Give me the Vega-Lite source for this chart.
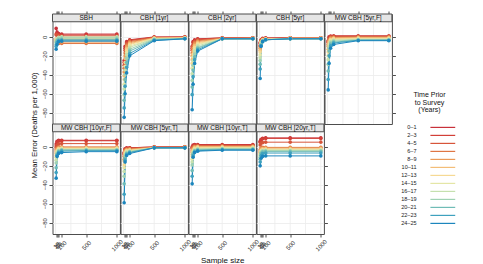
{
  "$schema": "https://vega.github.io/schema/vega-lite/v6.json",
  "background": "white",
  "padding": {"left": 29.5, "top": 10, "right": 5, "bottom": 5},
  "datasets": {
    "sbh": [
      {"t":"0–1","n":10,"v":9},{"t":"0–1","n":25,"v":5},{"t":"0–1","n":50,"v":3.5},{"t":"0–1","n":100,"v":3},{"t":"0–1","n":500,"v":3},{"t":"0–1","n":1000,"v":3},
      {"t":"2–3","n":10,"v":3},{"t":"2–3","n":25,"v":3},{"t":"2–3","n":50,"v":2.5},{"t":"2–3","n":100,"v":2},{"t":"2–3","n":500,"v":2},{"t":"2–3","n":1000,"v":2},
      {"t":"4–5","n":10,"v":2},{"t":"4–5","n":25,"v":2},{"t":"4–5","n":50,"v":1.5},{"t":"4–5","n":100,"v":1},{"t":"4–5","n":500,"v":1},{"t":"4–5","n":1000,"v":1},
      {"t":"6–7","n":10,"v":-4},{"t":"6–7","n":25,"v":-6},{"t":"6–7","n":50,"v":-7},{"t":"6–7","n":100,"v":-7},{"t":"6–7","n":500,"v":-7},{"t":"6–7","n":1000,"v":-7},
      {"t":"8–9","n":10,"v":-3},{"t":"8–9","n":25,"v":-4.5},{"t":"8–9","n":50,"v":-5.5},{"t":"8–9","n":100,"v":-5.5},{"t":"8–9","n":500,"v":-5.5},{"t":"8–9","n":1000,"v":-5.5},
      {"t":"10–11","n":10,"v":-2},{"t":"10–11","n":25,"v":-3},{"t":"10–11","n":50,"v":-3},{"t":"10–11","n":100,"v":-3},{"t":"10–11","n":500,"v":-3},{"t":"10–11","n":1000,"v":-3},
      {"t":"12–13","n":10,"v":-3},{"t":"12–13","n":25,"v":-2},{"t":"12–13","n":50,"v":-1.5},{"t":"12–13","n":100,"v":-1.5},{"t":"12–13","n":500,"v":-1.5},{"t":"12–13","n":1000,"v":-1.5},
      {"t":"14–15","n":10,"v":-4},{"t":"14–15","n":25,"v":-2},{"t":"14–15","n":50,"v":-1},{"t":"14–15","n":100,"v":-0.5},{"t":"14–15","n":500,"v":-0.5},{"t":"14–15","n":1000,"v":-0.5},
      {"t":"16–17","n":10,"v":-5},{"t":"16–17","n":25,"v":-2},{"t":"16–17","n":50,"v":-0.5},{"t":"16–17","n":100,"v":0},{"t":"16–17","n":500,"v":0},{"t":"16–17","n":1000,"v":0},
      {"t":"18–19","n":10,"v":-6},{"t":"18–19","n":25,"v":-3},{"t":"18–19","n":50,"v":-1.5},{"t":"18–19","n":100,"v":-1},{"t":"18–19","n":500,"v":-1},{"t":"18–19","n":1000,"v":-1},
      {"t":"20–21","n":10,"v":-8},{"t":"20–21","n":25,"v":-4},{"t":"20–21","n":50,"v":-3},{"t":"20–21","n":100,"v":-2.5},{"t":"20–21","n":500,"v":-2.5},{"t":"20–21","n":1000,"v":-2.5},
      {"t":"22–23","n":10,"v":-10},{"t":"22–23","n":25,"v":-6},{"t":"22–23","n":50,"v":-4},{"t":"22–23","n":100,"v":-3.5},{"t":"22–23","n":500,"v":-3.5},{"t":"22–23","n":1000,"v":-3.5},
      {"t":"24–25","n":10,"v":-13},{"t":"24–25","n":25,"v":-8},{"t":"24–25","n":50,"v":-5},{"t":"24–25","n":100,"v":-4.5},{"t":"24–25","n":500,"v":-4.5},{"t":"24–25","n":1000,"v":-4.5}
    ],
    "c1": [
      {"t":"0–1","n":10,"v":-25},{"t":"0–1","n":25,"v":-10},{"t":"0–1","n":50,"v":-5},{"t":"0–1","n":100,"v":-3},{"t":"0–1","n":500,"v":0},{"t":"0–1","n":1000,"v":0},
      {"t":"2–3","n":10,"v":-27},{"t":"2–3","n":25,"v":-12},{"t":"2–3","n":50,"v":-6},{"t":"2–3","n":100,"v":-3.5},{"t":"2–3","n":500,"v":-0.5},{"t":"2–3","n":1000,"v":0},
      {"t":"4–5","n":10,"v":-30},{"t":"4–5","n":25,"v":-14},{"t":"4–5","n":50,"v":-7},{"t":"4–5","n":100,"v":-4},{"t":"4–5","n":500,"v":-0.5},{"t":"4–5","n":1000,"v":-0.5},
      {"t":"6–7","n":10,"v":-33},{"t":"6–7","n":25,"v":-17},{"t":"6–7","n":50,"v":-8.5},{"t":"6–7","n":100,"v":-5},{"t":"6–7","n":500,"v":-1},{"t":"6–7","n":1000,"v":-0.5},
      {"t":"8–9","n":10,"v":-37},{"t":"8–9","n":25,"v":-20},{"t":"8–9","n":50,"v":-10},{"t":"8–9","n":100,"v":-6},{"t":"8–9","n":500,"v":-1},{"t":"8–9","n":1000,"v":-1},
      {"t":"10–11","n":10,"v":-41},{"t":"10–11","n":25,"v":-23},{"t":"10–11","n":50,"v":-12},{"t":"10–11","n":100,"v":-7},{"t":"10–11","n":500,"v":-1.5},{"t":"10–11","n":1000,"v":-1},
      {"t":"12–13","n":10,"v":-45},{"t":"12–13","n":25,"v":-27},{"t":"12–13","n":50,"v":-14},{"t":"12–13","n":100,"v":-8},{"t":"12–13","n":500,"v":-1.5},{"t":"12–13","n":1000,"v":-1},
      {"t":"14–15","n":10,"v":-50},{"t":"14–15","n":25,"v":-31},{"t":"14–15","n":50,"v":-16.5},{"t":"14–15","n":100,"v":-9.5},{"t":"14–15","n":500,"v":-2},{"t":"14–15","n":1000,"v":-1.5},
      {"t":"16–17","n":10,"v":-55},{"t":"16–17","n":25,"v":-35},{"t":"16–17","n":50,"v":-19},{"t":"16–17","n":100,"v":-11},{"t":"16–17","n":500,"v":-2},{"t":"16–17","n":1000,"v":-1.5},
      {"t":"18–19","n":10,"v":-61},{"t":"18–19","n":25,"v":-40},{"t":"18–19","n":50,"v":-22.5},{"t":"18–19","n":100,"v":-13},{"t":"18–19","n":500,"v":-2.5},{"t":"18–19","n":1000,"v":-1.5},
      {"t":"20–21","n":10,"v":-67},{"t":"20–21","n":25,"v":-45},{"t":"20–21","n":50,"v":-27},{"t":"20–21","n":100,"v":-15},{"t":"20–21","n":500,"v":-3},{"t":"20–21","n":1000,"v":-2},
      {"t":"22–23","n":10,"v":-75},{"t":"22–23","n":25,"v":-52},{"t":"22–23","n":50,"v":-32},{"t":"22–23","n":100,"v":-17.5},{"t":"22–23","n":500,"v":-3.5},{"t":"22–23","n":1000,"v":-2},
      {"t":"24–25","n":10,"v":-85},{"t":"24–25","n":25,"v":-60},{"t":"24–25","n":50,"v":-38},{"t":"24–25","n":100,"v":-20},{"t":"24–25","n":500,"v":-4},{"t":"24–25","n":1000,"v":-2}
    ],
    "c2": [
      {"t":"0–1","n":10,"v":-10},{"t":"0–1","n":25,"v":-5},{"t":"0–1","n":50,"v":-3},{"t":"0–1","n":100,"v":-2},{"t":"0–1","n":500,"v":-1},{"t":"0–1","n":1000,"v":-1},
      {"t":"2–3","n":10,"v":-12},{"t":"2–3","n":25,"v":-6},{"t":"2–3","n":50,"v":-4},{"t":"2–3","n":100,"v":-2.5},{"t":"2–3","n":500,"v":-1},{"t":"2–3","n":1000,"v":-1},
      {"t":"4–5","n":10,"v":-14},{"t":"4–5","n":25,"v":-8},{"t":"4–5","n":50,"v":-5},{"t":"4–5","n":100,"v":-3},{"t":"4–5","n":500,"v":-1.5},{"t":"4–5","n":1000,"v":-1},
      {"t":"6–7","n":10,"v":-17},{"t":"6–7","n":25,"v":-10},{"t":"6–7","n":50,"v":-6},{"t":"6–7","n":100,"v":-4},{"t":"6–7","n":500,"v":-1.5},{"t":"6–7","n":1000,"v":-1.5},
      {"t":"8–9","n":10,"v":-20},{"t":"8–9","n":25,"v":-12},{"t":"8–9","n":50,"v":-7.5},{"t":"8–9","n":100,"v":-5},{"t":"8–9","n":500,"v":-1.5},{"t":"8–9","n":1000,"v":-1.5},
      {"t":"10–11","n":10,"v":-24},{"t":"10–11","n":25,"v":-15},{"t":"10–11","n":50,"v":-9},{"t":"10–11","n":100,"v":-6},{"t":"10–11","n":500,"v":-2},{"t":"10–11","n":1000,"v":-1.5},
      {"t":"12–13","n":10,"v":-28},{"t":"12–13","n":25,"v":-18},{"t":"12–13","n":50,"v":-11},{"t":"12–13","n":100,"v":-7},{"t":"12–13","n":500,"v":-2},{"t":"12–13","n":1000,"v":-2},
      {"t":"14–15","n":10,"v":-33},{"t":"14–15","n":25,"v":-21},{"t":"14–15","n":50,"v":-13},{"t":"14–15","n":100,"v":-8},{"t":"14–15","n":500,"v":-2},{"t":"14–15","n":1000,"v":-2},
      {"t":"16–17","n":10,"v":-39},{"t":"16–17","n":25,"v":-25},{"t":"16–17","n":50,"v":-15},{"t":"16–17","n":100,"v":-9.5},{"t":"16–17","n":500,"v":-2},{"t":"16–17","n":1000,"v":-2},
      {"t":"18–19","n":10,"v":-46},{"t":"18–19","n":25,"v":-30},{"t":"18–19","n":50,"v":-18},{"t":"18–19","n":100,"v":-11},{"t":"18–19","n":500,"v":-2},{"t":"18–19","n":1000,"v":-2},
      {"t":"20–21","n":10,"v":-53},{"t":"20–21","n":25,"v":-35},{"t":"20–21","n":50,"v":-21},{"t":"20–21","n":100,"v":-12},{"t":"20–21","n":500,"v":-2},{"t":"20–21","n":1000,"v":-2},
      {"t":"22–23","n":10,"v":-61},{"t":"22–23","n":25,"v":-42},{"t":"22–23","n":50,"v":-24},{"t":"22–23","n":100,"v":-13.5},{"t":"22–23","n":500,"v":-2},{"t":"22–23","n":1000,"v":-2},
      {"t":"24–25","n":10,"v":-77},{"t":"24–25","n":25,"v":-50},{"t":"24–25","n":50,"v":-28},{"t":"24–25","n":100,"v":-15},{"t":"24–25","n":500,"v":-2},{"t":"24–25","n":1000,"v":-2}
    ],
    "c5": [
      {"t":"0–1","n":10,"v":-6},{"t":"0–1","n":25,"v":-3},{"t":"0–1","n":50,"v":-1.5},{"t":"0–1","n":100,"v":-1},{"t":"0–1","n":500,"v":-1},{"t":"0–1","n":1000,"v":-1},
      {"t":"2–3","n":10,"v":-7},{"t":"2–3","n":25,"v":-3.5},{"t":"2–3","n":50,"v":-2},{"t":"2–3","n":100,"v":-1.5},{"t":"2–3","n":500,"v":-1},{"t":"2–3","n":1000,"v":-1},
      {"t":"4–5","n":10,"v":-9},{"t":"4–5","n":25,"v":-4},{"t":"4–5","n":50,"v":-2},{"t":"4–5","n":100,"v":-1.5},{"t":"4–5","n":500,"v":-1},{"t":"4–5","n":1000,"v":-1},
      {"t":"6–7","n":10,"v":-10},{"t":"6–7","n":25,"v":-4.5},{"t":"6–7","n":50,"v":-2.5},{"t":"6–7","n":100,"v":-2},{"t":"6–7","n":500,"v":-1.5},{"t":"6–7","n":1000,"v":-1.5},
      {"t":"8–9","n":10,"v":-12},{"t":"8–9","n":25,"v":-5},{"t":"8–9","n":50,"v":-3},{"t":"8–9","n":100,"v":-2},{"t":"8–9","n":500,"v":-1.5},{"t":"8–9","n":1000,"v":-1.5},
      {"t":"10–11","n":10,"v":-14},{"t":"10–11","n":25,"v":-5.5},{"t":"10–11","n":50,"v":-3},{"t":"10–11","n":100,"v":-2},{"t":"10–11","n":500,"v":-1.5},{"t":"10–11","n":1000,"v":-1.5},
      {"t":"12–13","n":10,"v":-16},{"t":"12–13","n":25,"v":-6},{"t":"12–13","n":50,"v":-3.5},{"t":"12–13","n":100,"v":-2.5},{"t":"12–13","n":500,"v":-1.5},{"t":"12–13","n":1000,"v":-1.5},
      {"t":"14–15","n":10,"v":-19},{"t":"14–15","n":25,"v":-6.5},{"t":"14–15","n":50,"v":-3.5},{"t":"14–15","n":100,"v":-2.5},{"t":"14–15","n":500,"v":-2},{"t":"14–15","n":1000,"v":-2},
      {"t":"16–17","n":10,"v":-22},{"t":"16–17","n":25,"v":-7},{"t":"16–17","n":50,"v":-4},{"t":"16–17","n":100,"v":-2.5},{"t":"16–17","n":500,"v":-2},{"t":"16–17","n":1000,"v":-2},
      {"t":"18–19","n":10,"v":-25},{"t":"18–19","n":25,"v":-7.5},{"t":"18–19","n":50,"v":-4},{"t":"18–19","n":100,"v":-3},{"t":"18–19","n":500,"v":-2},{"t":"18–19","n":1000,"v":-2},
      {"t":"20–21","n":10,"v":-29},{"t":"20–21","n":25,"v":-8.5},{"t":"20–21","n":50,"v":-4.5},{"t":"20–21","n":100,"v":-3},{"t":"20–21","n":500,"v":-2},{"t":"20–21","n":1000,"v":-2},
      {"t":"22–23","n":10,"v":-34},{"t":"22–23","n":25,"v":-9},{"t":"22–23","n":50,"v":-5},{"t":"22–23","n":100,"v":-3},{"t":"22–23","n":500,"v":-2},{"t":"22–23","n":1000,"v":-2},
      {"t":"24–25","n":10,"v":-44},{"t":"24–25","n":25,"v":-10},{"t":"24–25","n":50,"v":-5},{"t":"24–25","n":100,"v":-3},{"t":"24–25","n":500,"v":-2},{"t":"24–25","n":1000,"v":-2}
    ],
    "m5f": [
      {"t":"0–1","n":10,"v":-4},{"t":"0–1","n":25,"v":0},{"t":"0–1","n":50,"v":1},{"t":"0–1","n":100,"v":1},{"t":"0–1","n":500,"v":1},{"t":"0–1","n":1000,"v":1},
      {"t":"2–3","n":10,"v":-5},{"t":"2–3","n":25,"v":-1},{"t":"2–3","n":50,"v":0.5},{"t":"2–3","n":100,"v":1},{"t":"2–3","n":500,"v":1},{"t":"2–3","n":1000,"v":1},
      {"t":"4–5","n":10,"v":-6},{"t":"4–5","n":25,"v":-2},{"t":"4–5","n":50,"v":0},{"t":"4–5","n":100,"v":0.5},{"t":"4–5","n":500,"v":0.5},{"t":"4–5","n":1000,"v":0.5},
      {"t":"6–7","n":10,"v":-8},{"t":"6–7","n":25,"v":-3},{"t":"6–7","n":50,"v":-1},{"t":"6–7","n":100,"v":-0.5},{"t":"6–7","n":500,"v":0},{"t":"6–7","n":1000,"v":0},
      {"t":"8–9","n":10,"v":-10},{"t":"8–9","n":25,"v":-4},{"t":"8–9","n":50,"v":-1.5},{"t":"8–9","n":100,"v":-1},{"t":"8–9","n":500,"v":-0.5},{"t":"8–9","n":1000,"v":-0.5},
      {"t":"10–11","n":10,"v":-13},{"t":"10–11","n":25,"v":-5},{"t":"10–11","n":50,"v":-2.5},{"t":"10–11","n":100,"v":-1.5},{"t":"10–11","n":500,"v":-1},{"t":"10–11","n":1000,"v":-1},
      {"t":"12–13","n":10,"v":-16},{"t":"12–13","n":25,"v":-6.5},{"t":"12–13","n":50,"v":-3},{"t":"12–13","n":100,"v":-2},{"t":"12–13","n":500,"v":-1.5},{"t":"12–13","n":1000,"v":-1.5},
      {"t":"14–15","n":10,"v":-20},{"t":"14–15","n":25,"v":-8},{"t":"14–15","n":50,"v":-4},{"t":"14–15","n":100,"v":-3},{"t":"14–15","n":500,"v":-2},{"t":"14–15","n":1000,"v":-2},
      {"t":"16–17","n":10,"v":-24},{"t":"16–17","n":25,"v":-10},{"t":"16–17","n":50,"v":-5},{"t":"16–17","n":100,"v":-3.5},{"t":"16–17","n":500,"v":-2.5},{"t":"16–17","n":1000,"v":-2.5},
      {"t":"18–19","n":10,"v":-29},{"t":"18–19","n":25,"v":-12},{"t":"18–19","n":50,"v":-6},{"t":"18–19","n":100,"v":-4.5},{"t":"18–19","n":500,"v":-3},{"t":"18–19","n":1000,"v":-3},
      {"t":"20–21","n":10,"v":-36},{"t":"20–21","n":25,"v":-15},{"t":"20–21","n":50,"v":-7.5},{"t":"20–21","n":100,"v":-5.5},{"t":"20–21","n":500,"v":-3.5},{"t":"20–21","n":1000,"v":-3.5},
      {"t":"22–23","n":10,"v":-45},{"t":"22–23","n":25,"v":-20},{"t":"22–23","n":50,"v":-9.5},{"t":"22–23","n":100,"v":-6.5},{"t":"22–23","n":500,"v":-3.5},{"t":"22–23","n":1000,"v":-3.5},
      {"t":"24–25","n":10,"v":-56},{"t":"24–25","n":25,"v":-28},{"t":"24–25","n":50,"v":-12},{"t":"24–25","n":100,"v":-8},{"t":"24–25","n":500,"v":-4},{"t":"24–25","n":1000,"v":-4}
    ],
    "m10f": [
      {"t":"0–1","n":10,"v":3},{"t":"0–1","n":25,"v":6},{"t":"0–1","n":50,"v":7},{"t":"0–1","n":100,"v":7},{"t":"0–1","n":500,"v":7},{"t":"0–1","n":1000,"v":7},
      {"t":"2–3","n":10,"v":1},{"t":"2–3","n":25,"v":5},{"t":"2–3","n":50,"v":6},{"t":"2–3","n":100,"v":6.5},{"t":"2–3","n":500,"v":6.5},{"t":"2–3","n":1000,"v":6.5},
      {"t":"4–5","n":10,"v":-1},{"t":"4–5","n":25,"v":2},{"t":"4–5","n":50,"v":3},{"t":"4–5","n":100,"v":3.5},{"t":"4–5","n":500,"v":3.5},{"t":"4–5","n":1000,"v":3.5},
      {"t":"6–7","n":10,"v":-3},{"t":"6–7","n":25,"v":-1},{"t":"6–7","n":50,"v":0},{"t":"6–7","n":100,"v":0},{"t":"6–7","n":500,"v":0},{"t":"6–7","n":1000,"v":0},
      {"t":"8–9","n":10,"v":-5},{"t":"8–9","n":25,"v":-2},{"t":"8–9","n":50,"v":-1},{"t":"8–9","n":100,"v":-0.5},{"t":"8–9","n":500,"v":-0.5},{"t":"8–9","n":1000,"v":-0.5},
      {"t":"10–11","n":10,"v":-7},{"t":"10–11","n":25,"v":-3},{"t":"10–11","n":50,"v":-1.5},{"t":"10–11","n":100,"v":-1},{"t":"10–11","n":500,"v":-1},{"t":"10–11","n":1000,"v":-1},
      {"t":"12–13","n":10,"v":-9},{"t":"12–13","n":25,"v":-4},{"t":"12–13","n":50,"v":-2},{"t":"12–13","n":100,"v":-1.5},{"t":"12–13","n":500,"v":-1.5},{"t":"12–13","n":1000,"v":-1.5},
      {"t":"14–15","n":10,"v":-11},{"t":"14–15","n":25,"v":-5},{"t":"14–15","n":50,"v":-3},{"t":"14–15","n":100,"v":-2},{"t":"14–15","n":500,"v":-2},{"t":"14–15","n":1000,"v":-2},
      {"t":"16–17","n":10,"v":-14},{"t":"16–17","n":25,"v":-6},{"t":"16–17","n":50,"v":-3.5},{"t":"16–17","n":100,"v":-2.5},{"t":"16–17","n":500,"v":-2.5},{"t":"16–17","n":1000,"v":-2.5},
      {"t":"18–19","n":10,"v":-17},{"t":"18–19","n":25,"v":-7},{"t":"18–19","n":50,"v":-4},{"t":"18–19","n":100,"v":-3},{"t":"18–19","n":500,"v":-3},{"t":"18–19","n":1000,"v":-3},
      {"t":"20–21","n":10,"v":-22},{"t":"20–21","n":25,"v":-8},{"t":"20–21","n":50,"v":-5},{"t":"20–21","n":100,"v":-3.5},{"t":"20–21","n":500,"v":-3.5},{"t":"20–21","n":1000,"v":-3.5},
      {"t":"22–23","n":10,"v":-27},{"t":"22–23","n":25,"v":-9},{"t":"22–23","n":50,"v":-6},{"t":"22–23","n":100,"v":-4.5},{"t":"22–23","n":500,"v":-4},{"t":"22–23","n":1000,"v":-4},
      {"t":"24–25","n":10,"v":-33},{"t":"24–25","n":25,"v":-10},{"t":"24–25","n":50,"v":-7},{"t":"24–25","n":100,"v":-6},{"t":"24–25","n":500,"v":-5},{"t":"24–25","n":1000,"v":-5}
    ],
    "m5t": [
      {"t":"0–1","n":10,"v":-6},{"t":"0–1","n":25,"v":-2},{"t":"0–1","n":50,"v":-1},{"t":"0–1","n":100,"v":-1},{"t":"0–1","n":500,"v":0},{"t":"0–1","n":1000,"v":0},
      {"t":"2–3","n":10,"v":-7},{"t":"2–3","n":25,"v":-2.5},{"t":"2–3","n":50,"v":-1.5},{"t":"2–3","n":100,"v":-1},{"t":"2–3","n":500,"v":0},{"t":"2–3","n":1000,"v":0},
      {"t":"4–5","n":10,"v":-8},{"t":"4–5","n":25,"v":-3},{"t":"4–5","n":50,"v":-2},{"t":"4–5","n":100,"v":-1.5},{"t":"4–5","n":500,"v":-0.5},{"t":"4–5","n":1000,"v":0},
      {"t":"6–7","n":10,"v":-10},{"t":"6–7","n":25,"v":-3.5},{"t":"6–7","n":50,"v":-2.5},{"t":"6–7","n":100,"v":-2},{"t":"6–7","n":500,"v":-0.5},{"t":"6–7","n":1000,"v":-0.5},
      {"t":"8–9","n":10,"v":-13},{"t":"8–9","n":25,"v":-4.5},{"t":"8–9","n":50,"v":-3},{"t":"8–9","n":100,"v":-2.5},{"t":"8–9","n":500,"v":-0.5},{"t":"8–9","n":1000,"v":-0.5},
      {"t":"10–11","n":10,"v":-15},{"t":"10–11","n":25,"v":-5.5},{"t":"10–11","n":50,"v":-3.5},{"t":"10–11","n":100,"v":-3},{"t":"10–11","n":500,"v":-1},{"t":"10–11","n":1000,"v":-0.5},
      {"t":"12–13","n":10,"v":-19},{"t":"12–13","n":25,"v":-6.5},{"t":"12–13","n":50,"v":-4},{"t":"12–13","n":100,"v":-3.5},{"t":"12–13","n":500,"v":-1},{"t":"12–13","n":1000,"v":-1},
      {"t":"14–15","n":10,"v":-22},{"t":"14–15","n":25,"v":-7.5},{"t":"14–15","n":50,"v":-5},{"t":"14–15","n":100,"v":-4},{"t":"14–15","n":500,"v":-1},{"t":"14–15","n":1000,"v":-1},
      {"t":"16–17","n":10,"v":-26},{"t":"16–17","n":25,"v":-9},{"t":"16–17","n":50,"v":-5.5},{"t":"16–17","n":100,"v":-4.5},{"t":"16–17","n":500,"v":-1},{"t":"16–17","n":1000,"v":-1},
      {"t":"18–19","n":10,"v":-31},{"t":"18–19","n":25,"v":-10.5},{"t":"18–19","n":50,"v":-6.5},{"t":"18–19","n":100,"v":-5},{"t":"18–19","n":500,"v":-1},{"t":"18–19","n":1000,"v":-1},
      {"t":"20–21","n":10,"v":-39},{"t":"20–21","n":25,"v":-12},{"t":"20–21","n":50,"v":-7},{"t":"20–21","n":100,"v":-5.5},{"t":"20–21","n":500,"v":-1},{"t":"20–21","n":1000,"v":-1},
      {"t":"22–23","n":10,"v":-50},{"t":"22–23","n":25,"v":-14},{"t":"22–23","n":50,"v":-8},{"t":"22–23","n":100,"v":-6},{"t":"22–23","n":500,"v":-1},{"t":"22–23","n":1000,"v":-1},
      {"t":"24–25","n":10,"v":-59},{"t":"24–25","n":25,"v":-16},{"t":"24–25","n":50,"v":-9},{"t":"24–25","n":100,"v":-7},{"t":"24–25","n":500,"v":-1},{"t":"24–25","n":1000,"v":-1}
    ],
    "m10t": [
      {"t":"0–1","n":10,"v":0},{"t":"0–1","n":25,"v":2},{"t":"0–1","n":50,"v":2.5},{"t":"0–1","n":100,"v":2.5},{"t":"0–1","n":500,"v":2.5},{"t":"0–1","n":1000,"v":2.5},
      {"t":"2–3","n":10,"v":-1},{"t":"2–3","n":25,"v":1},{"t":"2–3","n":50,"v":2},{"t":"2–3","n":100,"v":2},{"t":"2–3","n":500,"v":2},{"t":"2–3","n":1000,"v":2},
      {"t":"4–5","n":10,"v":-2},{"t":"4–5","n":25,"v":0},{"t":"4–5","n":50,"v":1},{"t":"4–5","n":100,"v":1.5},{"t":"4–5","n":500,"v":1.5},{"t":"4–5","n":1000,"v":1.5},
      {"t":"6–7","n":10,"v":-4},{"t":"6–7","n":25,"v":-1},{"t":"6–7","n":50,"v":0.5},{"t":"6–7","n":100,"v":1},{"t":"6–7","n":500,"v":1},{"t":"6–7","n":1000,"v":1},
      {"t":"8–9","n":10,"v":-6},{"t":"8–9","n":25,"v":-2},{"t":"8–9","n":50,"v":0},{"t":"8–9","n":100,"v":0.5},{"t":"8–9","n":500,"v":0.5},{"t":"8–9","n":1000,"v":0.5},
      {"t":"10–11","n":10,"v":-8},{"t":"10–11","n":25,"v":-3},{"t":"10–11","n":50,"v":-1},{"t":"10–11","n":100,"v":0},{"t":"10–11","n":500,"v":0},{"t":"10–11","n":1000,"v":0},
      {"t":"12–13","n":10,"v":-10},{"t":"12–13","n":25,"v":-4},{"t":"12–13","n":50,"v":-1.5},{"t":"12–13","n":100,"v":-0.5},{"t":"12–13","n":500,"v":-0.5},{"t":"12–13","n":1000,"v":-0.5},
      {"t":"14–15","n":10,"v":-13},{"t":"14–15","n":25,"v":-5},{"t":"14–15","n":50,"v":-2.5},{"t":"14–15","n":100,"v":-1.5},{"t":"14–15","n":500,"v":-1},{"t":"14–15","n":1000,"v":-1},
      {"t":"16–17","n":10,"v":-16},{"t":"16–17","n":25,"v":-6},{"t":"16–17","n":50,"v":-3},{"t":"16–17","n":100,"v":-2},{"t":"16–17","n":500,"v":-1.5},{"t":"16–17","n":1000,"v":-1.5},
      {"t":"18–19","n":10,"v":-19},{"t":"18–19","n":25,"v":-7},{"t":"18–19","n":50,"v":-4},{"t":"18–19","n":100,"v":-2.5},{"t":"18–19","n":500,"v":-2},{"t":"18–19","n":1000,"v":-2},
      {"t":"20–21","n":10,"v":-25},{"t":"20–21","n":25,"v":-8},{"t":"20–21","n":50,"v":-4.5},{"t":"20–21","n":100,"v":-3},{"t":"20–21","n":500,"v":-2.5},{"t":"20–21","n":1000,"v":-2.5},
      {"t":"22–23","n":10,"v":-31},{"t":"22–23","n":25,"v":-9.5},{"t":"22–23","n":50,"v":-5.5},{"t":"22–23","n":100,"v":-4},{"t":"22–23","n":500,"v":-3},{"t":"22–23","n":1000,"v":-3},
      {"t":"24–25","n":10,"v":-39},{"t":"24–25","n":25,"v":-11},{"t":"24–25","n":50,"v":-6},{"t":"24–25","n":100,"v":-4.5},{"t":"24–25","n":500,"v":-3.5},{"t":"24–25","n":1000,"v":-3.5}
    ],
    "m20t": [
      {"t":"0–1","n":10,"v":6},{"t":"0–1","n":25,"v":8},{"t":"0–1","n":50,"v":9},{"t":"0–1","n":100,"v":9.5},{"t":"0–1","n":500,"v":9.5},{"t":"0–1","n":1000,"v":9.5},
      {"t":"2–3","n":10,"v":5},{"t":"2–3","n":25,"v":7.5},{"t":"2–3","n":50,"v":8.5},{"t":"2–3","n":100,"v":9},{"t":"2–3","n":500,"v":9},{"t":"2–3","n":1000,"v":9},
      {"t":"4–5","n":10,"v":2},{"t":"4–5","n":25,"v":4},{"t":"4–5","n":50,"v":4.5},{"t":"4–5","n":100,"v":5},{"t":"4–5","n":500,"v":5},{"t":"4–5","n":1000,"v":5},
      {"t":"6–7","n":10,"v":-3},{"t":"6–7","n":25,"v":-1},{"t":"6–7","n":50,"v":-0.5},{"t":"6–7","n":100,"v":-0.5},{"t":"6–7","n":500,"v":-0.5},{"t":"6–7","n":1000,"v":-0.5},
      {"t":"8–9","n":10,"v":-5},{"t":"8–9","n":25,"v":-2},{"t":"8–9","n":50,"v":-1.5},{"t":"8–9","n":100,"v":-1},{"t":"8–9","n":500,"v":-1},{"t":"8–9","n":1000,"v":-1},
      {"t":"10–11","n":10,"v":-6},{"t":"10–11","n":25,"v":-3},{"t":"10–11","n":50,"v":-2},{"t":"10–11","n":100,"v":-2},{"t":"10–11","n":500,"v":-2},{"t":"10–11","n":1000,"v":-2},
      {"t":"12–13","n":10,"v":-7},{"t":"12–13","n":25,"v":-4},{"t":"12–13","n":50,"v":-3},{"t":"12–13","n":100,"v":-2.5},{"t":"12–13","n":500,"v":-2.5},{"t":"12–13","n":1000,"v":-2.5},
      {"t":"14–15","n":10,"v":-8},{"t":"14–15","n":25,"v":-4.5},{"t":"14–15","n":50,"v":-3.5},{"t":"14–15","n":100,"v":-3},{"t":"14–15","n":500,"v":-3},{"t":"14–15","n":1000,"v":-3},
      {"t":"16–17","n":10,"v":-9},{"t":"16–17","n":25,"v":-5},{"t":"16–17","n":50,"v":-4},{"t":"16–17","n":100,"v":-3.5},{"t":"16–17","n":500,"v":-3.5},{"t":"16–17","n":1000,"v":-3.5},
      {"t":"18–19","n":10,"v":-11},{"t":"18–19","n":25,"v":-6},{"t":"18–19","n":50,"v":-4.5},{"t":"18–19","n":100,"v":-4},{"t":"18–19","n":500,"v":-4},{"t":"18–19","n":1000,"v":-4},
      {"t":"20–21","n":10,"v":-13},{"t":"20–21","n":25,"v":-7},{"t":"20–21","n":50,"v":-5.5},{"t":"20–21","n":100,"v":-5},{"t":"20–21","n":500,"v":-5},{"t":"20–21","n":1000,"v":-5},
      {"t":"22–23","n":10,"v":-16},{"t":"22–23","n":25,"v":-9},{"t":"22–23","n":50,"v":-7},{"t":"22–23","n":100,"v":-6.5},{"t":"22–23","n":500,"v":-6.5},{"t":"22–23","n":1000,"v":-6.5},
      {"t":"24–25","n":10,"v":-20},{"t":"24–25","n":25,"v":-12},{"t":"24–25","n":50,"v":-10},{"t":"24–25","n":100,"v":-9.5},{"t":"24–25","n":500,"v":-9.5},{"t":"24–25","n":1000,"v":-9.5}
    ]
  },
  "columns": 5,
  "spacing": 0,
  "bounds": "flush",
  "concat": [
    {"width": 67.4, "height": 110, "data": {"name": "sbh"}, "resolve": {"axis": {"x": "independent", "y": "independent"}}, "layer": [
      {"data": {"values": [{"n":0},{"n":250},{"n":500},{"n":750},{"n":1000}]}, "mark": {"type":"rule","stroke":"#ebebeb","strokeWidth":0.8}, "encoding": {"x": {"field":"n","type":"quantitative","axis":null}, "y": {"datum":-92,"type":"quantitative","axis":null}, "y2": {"datum":16}}},
      {"data": {"values": [{"lab":"SBH"}]}, "mark": {"type":"rect","fill":"#e5e5e5","stroke":"#4d4d4d","strokeWidth":1}, "encoding": {"x": {"datum":-50,"type":"quantitative","axis":null}, "x2": {"datum":1050}, "y": {"datum":16,"type":"quantitative","axis":null}, "y2": {"datum":24.2}}},
      {"data": {"values": [{"lab":"SBH"}]}, "mark": {"type":"text","fontSize":6.5,"color":"#111"}, "encoding": {"x": {"datum":500,"type":"quantitative","axis":null}, "y": {"datum":20.1,"type":"quantitative","axis":null}, "text": {"field":"lab"}}},
      {"mark": {"type":"line","strokeWidth":1,"point":{"filled":true,"size":13,"opacity":1}}, "encoding": {
        "x": {"field":"n","type":"quantitative","scale":{"domain":[-50,1050],"nice":false,"zero":false},"axis":{"orient":"top","values":[10,25,50,100,500,1000],"labels":false,"domain":false,"grid":false,"tickSize":3,"title":null}},
        "y": {"field":"v","type":"quantitative","scale":{"domain":[-92,24.2],"nice":false,"zero":false},"axis":{"orient":"left","values":[0,-20,-40,-60,-80],"grid":true,"domain":false,"tickSize":3.5,"labelAngle":-90,"labelAlign":"center","labelBaseline":"bottom","labelPadding":1.5,"labelOverlap":false,"title":"Mean Error (Deaths per 1,000)","titleFontSize":7.8,"titleColor":"#111","titleAngle":-90,"titleAlign":"center","titleBaseline":"middle","titleX":-18.5,"titleY":111}},
        "color": {"field":"t","type":"nominal","title":["Time Prior","to Survey","(Years)"],"scale":{"domain":["0–1","2–3","4–5","6–7","8–9","10–11","12–13","14–15","16–17","18–19","20–21","22–23","24–25"],"range":["#c8313a","#d23f37","#d7553a","#df7644","#ea9a58","#f3bd78","#f6d994","#e4e6a6","#c5e0ae","#a0d2b3","#70bcb6","#3ea1be","#1c86bd"]}}}}
    ]},
    {"width": 67.4, "height": 110, "data": {"name": "c1"}, "resolve": {"axis": {"x": "independent", "y": "independent"}}, "layer": [
      {"data": {"values": [{"n":0},{"n":250},{"n":500},{"n":750},{"n":1000}]}, "mark": {"type":"rule","stroke":"#ebebeb","strokeWidth":0.8}, "encoding": {"x": {"field":"n","type":"quantitative","axis":null}, "y": {"datum":-92,"type":"quantitative","axis":null}, "y2": {"datum":16}}},
      {"data": {"values": [{"lab":"CBH [1yr]"}]}, "mark": {"type":"rect","fill":"#e5e5e5","stroke":"#4d4d4d","strokeWidth":1}, "encoding": {"x": {"datum":-50,"type":"quantitative","axis":null}, "x2": {"datum":1050}, "y": {"datum":16,"type":"quantitative","axis":null}, "y2": {"datum":24.2}}},
      {"data": {"values": [{"lab":"CBH [1yr]"}]}, "mark": {"type":"text","fontSize":6.5,"color":"#111"}, "encoding": {"x": {"datum":500,"type":"quantitative","axis":null}, "y": {"datum":20.1,"type":"quantitative","axis":null}, "text": {"field":"lab"}}},
      {"mark": {"type":"line","strokeWidth":1,"point":{"filled":true,"size":13,"opacity":1}}, "encoding": {
        "x": {"field":"n","type":"quantitative","scale":{"domain":[-50,1050],"nice":false,"zero":false},"axis":{"orient":"top","values":[10,25,50,100,500,1000],"labels":false,"domain":false,"grid":false,"tickSize":3,"title":null}},
        "y": {"field":"v","type":"quantitative","scale":{"domain":[-92,24.2],"nice":false,"zero":false},"axis":{"values":[0,-20,-40,-60,-80],"grid":true,"domain":false,"ticks":false,"labels":false,"title":null}},
        "color": {"field":"t","type":"nominal","title":["Time Prior","to Survey","(Years)"],"scale":{"domain":["0–1","2–3","4–5","6–7","8–9","10–11","12–13","14–15","16–17","18–19","20–21","22–23","24–25"],"range":["#c8313a","#d23f37","#d7553a","#df7644","#ea9a58","#f3bd78","#f6d994","#e4e6a6","#c5e0ae","#a0d2b3","#70bcb6","#3ea1be","#1c86bd"]}}}}
    ]},
    {"width": 67.4, "height": 110, "data": {"name": "c2"}, "resolve": {"axis": {"x": "independent", "y": "independent"}}, "layer": [
      {"data": {"values": [{"n":0},{"n":250},{"n":500},{"n":750},{"n":1000}]}, "mark": {"type":"rule","stroke":"#ebebeb","strokeWidth":0.8}, "encoding": {"x": {"field":"n","type":"quantitative","axis":null}, "y": {"datum":-92,"type":"quantitative","axis":null}, "y2": {"datum":16}}},
      {"data": {"values": [{"lab":"CBH [2yr]"}]}, "mark": {"type":"rect","fill":"#e5e5e5","stroke":"#4d4d4d","strokeWidth":1}, "encoding": {"x": {"datum":-50,"type":"quantitative","axis":null}, "x2": {"datum":1050}, "y": {"datum":16,"type":"quantitative","axis":null}, "y2": {"datum":24.2}}},
      {"data": {"values": [{"lab":"CBH [2yr]"}]}, "mark": {"type":"text","fontSize":6.5,"color":"#111"}, "encoding": {"x": {"datum":500,"type":"quantitative","axis":null}, "y": {"datum":20.1,"type":"quantitative","axis":null}, "text": {"field":"lab"}}},
      {"mark": {"type":"line","strokeWidth":1,"point":{"filled":true,"size":13,"opacity":1}}, "encoding": {
        "x": {"field":"n","type":"quantitative","scale":{"domain":[-50,1050],"nice":false,"zero":false},"axis":{"orient":"top","values":[10,25,50,100,500,1000],"labels":false,"domain":false,"grid":false,"tickSize":3,"title":null}},
        "y": {"field":"v","type":"quantitative","scale":{"domain":[-92,24.2],"nice":false,"zero":false},"axis":{"values":[0,-20,-40,-60,-80],"grid":true,"domain":false,"ticks":false,"labels":false,"title":null}},
        "color": {"field":"t","type":"nominal","title":["Time Prior","to Survey","(Years)"],"scale":{"domain":["0–1","2–3","4–5","6–7","8–9","10–11","12–13","14–15","16–17","18–19","20–21","22–23","24–25"],"range":["#c8313a","#d23f37","#d7553a","#df7644","#ea9a58","#f3bd78","#f6d994","#e4e6a6","#c5e0ae","#a0d2b3","#70bcb6","#3ea1be","#1c86bd"]}}}}
    ]},
    {"width": 67.4, "height": 110, "data": {"name": "c5"}, "resolve": {"axis": {"x": "independent", "y": "independent"}}, "layer": [
      {"data": {"values": [{"n":0},{"n":250},{"n":500},{"n":750},{"n":1000}]}, "mark": {"type":"rule","stroke":"#ebebeb","strokeWidth":0.8}, "encoding": {"x": {"field":"n","type":"quantitative","axis":null}, "y": {"datum":-92,"type":"quantitative","axis":null}, "y2": {"datum":16}}},
      {"data": {"values": [{"lab":"CBH [5yr]"}]}, "mark": {"type":"rect","fill":"#e5e5e5","stroke":"#4d4d4d","strokeWidth":1}, "encoding": {"x": {"datum":-50,"type":"quantitative","axis":null}, "x2": {"datum":1050}, "y": {"datum":16,"type":"quantitative","axis":null}, "y2": {"datum":24.2}}},
      {"data": {"values": [{"lab":"CBH [5yr]"}]}, "mark": {"type":"text","fontSize":6.5,"color":"#111"}, "encoding": {"x": {"datum":500,"type":"quantitative","axis":null}, "y": {"datum":20.1,"type":"quantitative","axis":null}, "text": {"field":"lab"}}},
      {"mark": {"type":"line","strokeWidth":1,"point":{"filled":true,"size":13,"opacity":1}}, "encoding": {
        "x": {"field":"n","type":"quantitative","scale":{"domain":[-50,1050],"nice":false,"zero":false},"axis":{"orient":"top","values":[10,25,50,100,500,1000],"labels":false,"domain":false,"grid":false,"tickSize":3,"title":null}},
        "y": {"field":"v","type":"quantitative","scale":{"domain":[-92,24.2],"nice":false,"zero":false},"axis":{"values":[0,-20,-40,-60,-80],"grid":true,"domain":false,"ticks":false,"labels":false,"title":null}},
        "color": {"field":"t","type":"nominal","title":["Time Prior","to Survey","(Years)"],"scale":{"domain":["0–1","2–3","4–5","6–7","8–9","10–11","12–13","14–15","16–17","18–19","20–21","22–23","24–25"],"range":["#c8313a","#d23f37","#d7553a","#df7644","#ea9a58","#f3bd78","#f6d994","#e4e6a6","#c5e0ae","#a0d2b3","#70bcb6","#3ea1be","#1c86bd"]}}}}
    ]},
    {"width": 67.4, "height": 110, "data": {"name": "m5f"}, "resolve": {"axis": {"x": "independent", "y": "independent"}}, "layer": [
      {"data": {"values": [{"n":0},{"n":250},{"n":500},{"n":750},{"n":1000}]}, "mark": {"type":"rule","stroke":"#ebebeb","strokeWidth":0.8}, "encoding": {"x": {"field":"n","type":"quantitative","axis":null}, "y": {"datum":-92,"type":"quantitative","axis":null}, "y2": {"datum":16}}},
      {"data": {"values": [{"lab":"MW CBH [5yr,F]"}]}, "mark": {"type":"rect","fill":"#e5e5e5","stroke":"#4d4d4d","strokeWidth":1}, "encoding": {"x": {"datum":-50,"type":"quantitative","axis":null}, "x2": {"datum":1050}, "y": {"datum":16,"type":"quantitative","axis":null}, "y2": {"datum":24.2}}},
      {"data": {"values": [{"lab":"MW CBH [5yr,F]"}]}, "mark": {"type":"text","fontSize":6.5,"color":"#111"}, "encoding": {"x": {"datum":500,"type":"quantitative","axis":null}, "y": {"datum":20.1,"type":"quantitative","axis":null}, "text": {"field":"lab"}}},
      {"mark": {"type":"line","strokeWidth":1,"point":{"filled":true,"size":13,"opacity":1}}, "encoding": {
        "x": {"field":"n","type":"quantitative","scale":{"domain":[-50,1050],"nice":false,"zero":false},"axis":{"orient":"top","values":[10,25,50,100,500,1000],"labels":false,"domain":false,"grid":false,"tickSize":3,"title":null}},
        "y": {"field":"v","type":"quantitative","scale":{"domain":[-92,24.2],"nice":false,"zero":false},"axis":{"orient":"right","values":[0,-20,-40,-60,-80],"grid":true,"domain":false,"tickSize":3.5,"labels":false,"title":null}},
        "color": {"field":"t","type":"nominal","title":["Time Prior","to Survey","(Years)"],"scale":{"domain":["0–1","2–3","4–5","6–7","8–9","10–11","12–13","14–15","16–17","18–19","20–21","22–23","24–25"],"range":["#c8313a","#d23f37","#d7553a","#df7644","#ea9a58","#f3bd78","#f6d994","#e4e6a6","#c5e0ae","#a0d2b3","#70bcb6","#3ea1be","#1c86bd"]}}}}
    ]},
    {"width": 67.4, "height": 110, "data": {"name": "m10f"}, "resolve": {"axis": {"x": "independent", "y": "independent"}}, "layer": [
      {"data": {"values": [{"n":0},{"n":250},{"n":500},{"n":750},{"n":1000}]}, "mark": {"type":"rule","stroke":"#ebebeb","strokeWidth":0.8}, "encoding": {"x": {"field":"n","type":"quantitative","axis":null}, "y": {"datum":-92,"type":"quantitative","axis":null}, "y2": {"datum":16}}},
      {"data": {"values": [{"lab":"MW CBH [10yr,F]"}]}, "mark": {"type":"rect","fill":"#e5e5e5","stroke":"#4d4d4d","strokeWidth":1}, "encoding": {"x": {"datum":-50,"type":"quantitative","axis":null}, "x2": {"datum":1050}, "y": {"datum":16,"type":"quantitative","axis":null}, "y2": {"datum":24.2}}},
      {"data": {"values": [{"lab":"MW CBH [10yr,F]"}]}, "mark": {"type":"text","fontSize":6.5,"color":"#111"}, "encoding": {"x": {"datum":500,"type":"quantitative","axis":null}, "y": {"datum":20.1,"type":"quantitative","axis":null}, "text": {"field":"lab"}}},
      {"mark": {"type":"line","strokeWidth":1,"point":{"filled":true,"size":13,"opacity":1}}, "encoding": {
        "x": {"field":"n","type":"quantitative","scale":{"domain":[-50,1050],"nice":false,"zero":false},"axis":{"orient":"bottom","values":[10,25,50,100,500,1000],"format":"d","domain":false,"grid":false,"tickSize":3,"labelAngle":-45,"labelAlign":"center","labelBaseline":"middle","labelPadding":8,"labelOverlap":false,"labelFlush":false,"title":null}},
        "y": {"field":"v","type":"quantitative","scale":{"domain":[-92,24.2],"nice":false,"zero":false},"axis":{"orient":"left","values":[0,-20,-40,-60,-80],"grid":true,"domain":false,"tickSize":3.5,"labelAngle":-90,"labelAlign":"center","labelBaseline":"bottom","labelPadding":1.5,"labelOverlap":false,"title":null}},
        "color": {"field":"t","type":"nominal","title":["Time Prior","to Survey","(Years)"],"scale":{"domain":["0–1","2–3","4–5","6–7","8–9","10–11","12–13","14–15","16–17","18–19","20–21","22–23","24–25"],"range":["#c8313a","#d23f37","#d7553a","#df7644","#ea9a58","#f3bd78","#f6d994","#e4e6a6","#c5e0ae","#a0d2b3","#70bcb6","#3ea1be","#1c86bd"]}}}}
    ]},
    {"width": 67.4, "height": 110, "data": {"name": "m5t"}, "resolve": {"axis": {"x": "independent", "y": "independent"}}, "layer": [
      {"data": {"values": [{"n":0},{"n":250},{"n":500},{"n":750},{"n":1000}]}, "mark": {"type":"rule","stroke":"#ebebeb","strokeWidth":0.8}, "encoding": {"x": {"field":"n","type":"quantitative","axis":null}, "y": {"datum":-92,"type":"quantitative","axis":null}, "y2": {"datum":16}}},
      {"data": {"values": [{"lab":"MW CBH [5yr,T]"}]}, "mark": {"type":"rect","fill":"#e5e5e5","stroke":"#4d4d4d","strokeWidth":1}, "encoding": {"x": {"datum":-50,"type":"quantitative","axis":null}, "x2": {"datum":1050}, "y": {"datum":16,"type":"quantitative","axis":null}, "y2": {"datum":24.2}}},
      {"data": {"values": [{"lab":"MW CBH [5yr,T]"}]}, "mark": {"type":"text","fontSize":6.5,"color":"#111"}, "encoding": {"x": {"datum":500,"type":"quantitative","axis":null}, "y": {"datum":20.1,"type":"quantitative","axis":null}, "text": {"field":"lab"}}},
      {"mark": {"type":"line","strokeWidth":1,"point":{"filled":true,"size":13,"opacity":1}}, "encoding": {
        "x": {"field":"n","type":"quantitative","scale":{"domain":[-50,1050],"nice":false,"zero":false},"axis":{"orient":"bottom","values":[10,25,50,100,500,1000],"format":"d","domain":false,"grid":false,"tickSize":3,"labelAngle":-45,"labelAlign":"center","labelBaseline":"middle","labelPadding":8,"labelOverlap":false,"labelFlush":false,"title":null}},
        "y": {"field":"v","type":"quantitative","scale":{"domain":[-92,24.2],"nice":false,"zero":false},"axis":{"values":[0,-20,-40,-60,-80],"grid":true,"domain":false,"ticks":false,"labels":false,"title":null}},
        "color": {"field":"t","type":"nominal","title":["Time Prior","to Survey","(Years)"],"scale":{"domain":["0–1","2–3","4–5","6–7","8–9","10–11","12–13","14–15","16–17","18–19","20–21","22–23","24–25"],"range":["#c8313a","#d23f37","#d7553a","#df7644","#ea9a58","#f3bd78","#f6d994","#e4e6a6","#c5e0ae","#a0d2b3","#70bcb6","#3ea1be","#1c86bd"]}}}}
    ]},
    {"width": 67.4, "height": 110, "data": {"name": "m10t"}, "resolve": {"axis": {"x": "independent", "y": "independent"}}, "layer": [
      {"data": {"values": [{"n":0},{"n":250},{"n":500},{"n":750},{"n":1000}]}, "mark": {"type":"rule","stroke":"#ebebeb","strokeWidth":0.8}, "encoding": {"x": {"field":"n","type":"quantitative","axis":null}, "y": {"datum":-92,"type":"quantitative","axis":null}, "y2": {"datum":16}}},
      {"data": {"values": [{"lab":"MW CBH [10yr,T]"}]}, "mark": {"type":"rect","fill":"#e5e5e5","stroke":"#4d4d4d","strokeWidth":1}, "encoding": {"x": {"datum":-50,"type":"quantitative","axis":null}, "x2": {"datum":1050}, "y": {"datum":16,"type":"quantitative","axis":null}, "y2": {"datum":24.2}}},
      {"data": {"values": [{"lab":"MW CBH [10yr,T]"}]}, "mark": {"type":"text","fontSize":6.5,"color":"#111"}, "encoding": {"x": {"datum":500,"type":"quantitative","axis":null}, "y": {"datum":20.1,"type":"quantitative","axis":null}, "text": {"field":"lab"}}},
      {"mark": {"type":"line","strokeWidth":1,"point":{"filled":true,"size":13,"opacity":1}}, "encoding": {
        "x": {"field":"n","type":"quantitative","scale":{"domain":[-50,1050],"nice":false,"zero":false},"axis":{"orient":"bottom","values":[10,25,50,100,500,1000],"format":"d","domain":false,"grid":false,"tickSize":3,"labelAngle":-45,"labelAlign":"center","labelBaseline":"middle","labelPadding":8,"labelOverlap":false,"labelFlush":false,"title":"Sample size","titleFontSize":8,"titleColor":"#111","titleBaseline":"middle","titleY":26}},
        "y": {"field":"v","type":"quantitative","scale":{"domain":[-92,24.2],"nice":false,"zero":false},"axis":{"values":[0,-20,-40,-60,-80],"grid":true,"domain":false,"ticks":false,"labels":false,"title":null}},
        "color": {"field":"t","type":"nominal","title":["Time Prior","to Survey","(Years)"],"scale":{"domain":["0–1","2–3","4–5","6–7","8–9","10–11","12–13","14–15","16–17","18–19","20–21","22–23","24–25"],"range":["#c8313a","#d23f37","#d7553a","#df7644","#ea9a58","#f3bd78","#f6d994","#e4e6a6","#c5e0ae","#a0d2b3","#70bcb6","#3ea1be","#1c86bd"]}}}}
    ]},
    {"width": 67.4, "height": 110, "data": {"name": "m20t"}, "resolve": {"axis": {"x": "independent", "y": "independent"}}, "layer": [
      {"data": {"values": [{"n":0},{"n":250},{"n":500},{"n":750},{"n":1000}]}, "mark": {"type":"rule","stroke":"#ebebeb","strokeWidth":0.8}, "encoding": {"x": {"field":"n","type":"quantitative","axis":null}, "y": {"datum":-92,"type":"quantitative","axis":null}, "y2": {"datum":16}}},
      {"data": {"values": [{"lab":"MW CBH [20yr,T]"}]}, "mark": {"type":"rect","fill":"#e5e5e5","stroke":"#4d4d4d","strokeWidth":1}, "encoding": {"x": {"datum":-50,"type":"quantitative","axis":null}, "x2": {"datum":1050}, "y": {"datum":16,"type":"quantitative","axis":null}, "y2": {"datum":24.2}}},
      {"data": {"values": [{"lab":"MW CBH [20yr,T]"}]}, "mark": {"type":"text","fontSize":6.5,"color":"#111"}, "encoding": {"x": {"datum":500,"type":"quantitative","axis":null}, "y": {"datum":20.1,"type":"quantitative","axis":null}, "text": {"field":"lab"}}},
      {"mark": {"type":"line","strokeWidth":1,"point":{"filled":true,"size":13,"opacity":1}}, "encoding": {
        "x": {"field":"n","type":"quantitative","scale":{"domain":[-50,1050],"nice":false,"zero":false},"axis":{"orient":"bottom","values":[10,25,50,100,500,1000],"format":"d","domain":false,"grid":false,"tickSize":3,"labelAngle":-45,"labelAlign":"center","labelBaseline":"middle","labelPadding":8,"labelOverlap":false,"labelFlush":false,"title":null}},
        "y": {"field":"v","type":"quantitative","scale":{"domain":[-92,24.2],"nice":false,"zero":false},"axis":{"orient":"right","values":[0,-20,-40,-60,-80],"grid":true,"domain":false,"tickSize":3.5,"labels":false,"title":null}},
        "color": {"field":"t","type":"nominal","title":["Time Prior","to Survey","(Years)"],"scale":{"domain":["0–1","2–3","4–5","6–7","8–9","10–11","12–13","14–15","16–17","18–19","20–21","22–23","24–25"],"range":["#c8313a","#d23f37","#d7553a","#df7644","#ea9a58","#f3bd78","#f6d994","#e4e6a6","#c5e0ae","#a0d2b3","#70bcb6","#3ea1be","#1c86bd"]}}}}
    ]}
  ],
  "config": {
    "font": "Liberation Sans",
    "view": {"stroke": "#4d4d4d", "strokeWidth": 1},
    "axis": {"tickColor": "#4d4d4d", "labelColor": "#333", "labelFontSize": 6, "gridColor": "#ebebeb", "gridWidth": 0.8, "titleFontWeight": "normal", "labelOverlap": false, "labelFlush": false},
    "legend": {
      "orient": "none", "legendX": 361, "legendY": 77,
      "titleFontSize": 7, "titleFontWeight": "normal", "titleColor": "#111", "titleLineHeight": 7.7,
      "titleAlign": "center", "titleAnchor": "start", "titlePadding": 10,
      "labelFontSize": 5.5, "labelColor": "#222", "labelAlign": "right", "labelOffset": -21, "labelLimit": 0,
      "symbolType": "M-1,0H7", "symbolSize": 38.5, "symbolStrokeWidth": 1.2, "rowPadding": 0
    }
  }
}
